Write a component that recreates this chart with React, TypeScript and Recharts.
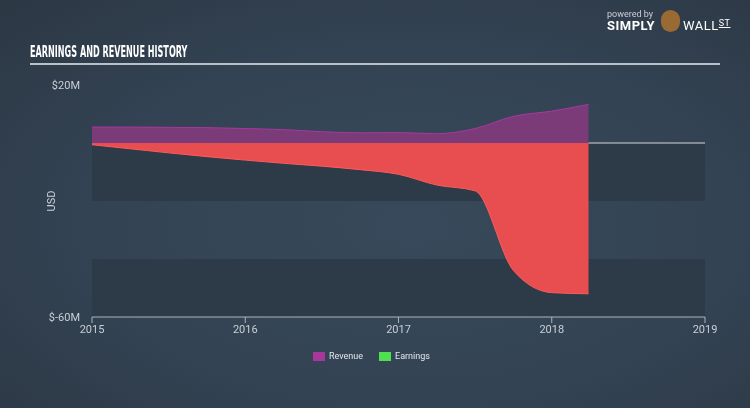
import React from 'react';
import {
  ComposedChart,
  Area,
  XAxis,
  YAxis,
  ReferenceArea,
  ReferenceLine,
} from 'recharts';

// fiscal periods (fractional years), revenue and earnings in $M
const periods = [2015.0, 2015.25, 2015.5, 2015.75, 2016.0, 2016.25, 2016.5, 2016.75, 2017.0, 2017.25, 2017.5, 2017.75, 2018.0, 2018.24];
const revenue = [5.5, 5.5, 5.4, 5.3, 5.0, 4.6, 3.9, 3.5, 3.6, 3.2, 5.0, 9.2, 11.0, 13.3];
const earnings = [-0.6, -2.0, -3.4, -4.7, -5.9, -7.0, -8.0, -9.2, -10.8, -14.5, -16.5, -44.0, -51.6, -52.0];

const xTicks = [2015, 2016, 2017, 2018, 2019];
const yTicks = [20, -60];
const bands = [[0, -20], [-40, -60]];

const data = periods.map((t, i) => ({ t, revenue: revenue[i], earnings: earnings[i] }));
const lastPeriod = periods[periods.length - 1];

const FONT = "Roboto, 'Open Sans', sans-serif";
const TICK = { fill: '#c9cfd6', fontSize: 11, fontFamily: FONT };

const App: React.FC = () => {
  return (
    <div
      style={{
        position: 'fixed',
        left: 0,
        top: 0,
        width: 750,
        height: 408,
        overflow: 'hidden',
        background: 'radial-gradient(ellipse at 55% 55%, #37495a 0%, #334353 55%, #2c3744 100%)',
        fontFamily: FONT,
      }}
    >
      {/* header */}
      <div
        style={{
          position: 'absolute', left: 30, top: 43, color: '#ffffff', fontSize: 15, fontWeight: 'bold',
          fontFamily: "'DejaVu Sans Condensed', sans-serif", whiteSpace: 'nowrap',
          transform: 'scaleX(0.6)', transformOrigin: 'left top',
        }}
      >
        EARNINGS AND REVENUE HISTORY
      </div>
      <div style={{ position: 'absolute', left: 30, top: 63, width: 690, height: 2, background: '#b9c0c8' }} />

      {/* logo */}
      <div style={{ position: 'absolute', left: 607, top: 9, color: '#c9cfd6', fontSize: 9 }}>powered by</div>
      <div style={{ position: 'absolute', left: 607, top: 18, color: '#ffffff', fontSize: 13, fontWeight: 'bold', letterSpacing: 0.5 }}>SIMPLY</div>
      <div style={{ position: 'absolute', left: 661, top: 10, width: 19, height: 22, borderRadius: 10, background: '#9a6a34' }} />
      <div style={{ position: 'absolute', left: 683, top: 18, color: '#ffffff', fontSize: 13, letterSpacing: 0.5 }}>
        WALL<span style={{ fontSize: 9, textDecoration: 'underline', verticalAlign: 4 }}>ST</span>
      </div>

      {/* axis title */}
      <div
        style={{
          position: 'absolute', left: 51, top: 201, color: '#c9cfd6', fontSize: 11,
          transform: 'translate(-50%, -50%) rotate(-90deg)',
        }}
      >
        USD
      </div>

      <div style={{ position: 'absolute', left: 0, top: 0 }}>
        <ComposedChart width={750} height={408} data={data} margin={{ top: 85, right: 45, bottom: 61, left: 32 }}>
          {bands.map(([a, b], i) => (
            <ReferenceArea key={i} x1={2015} x2={2019} y1={a} y2={b} fill="#2d3a48" fillOpacity={1} stroke="none" ifOverflow="visible" />
          ))}
          {/* zero line only shows past the last reported period */}
          <ReferenceLine segment={[{ x: lastPeriod, y: 0 }, { x: 2019, y: 0 }]} stroke="#d3d8dd" strokeWidth={1} />
          <XAxis
            dataKey="t"
            type="number"
            domain={[2015, 2019]}
            ticks={xTicks}
            tick={TICK}
            stroke="#aab4be"
            tickSize={6}
            height={30}
            interval={0}
          />
          <YAxis
            type="number"
            domain={[-60, 20]}
            ticks={yTicks}
            tickFormatter={(v: number) => `$${v}M`}
            tick={TICK}
            axisLine={false}
            tickLine={false}
            width={60}
            dx={-4}
            interval={0}
          />
          <Area type="monotone" dataKey="earnings" baseValue={0} stroke="#ff5a5a" strokeWidth={1} fill="#e84d50" fillOpacity={1} isAnimationActive={false} />
          <Area type="monotone" dataKey="revenue" baseValue={0} stroke="#a8389f" strokeWidth={1} fill="#7b3a78" fillOpacity={1} isAnimationActive={false} />
        </ComposedChart>
      </div>

      {/* legend */}
      <div style={{ position: 'absolute', left: 313, top: 351, display: 'flex', alignItems: 'center', fontSize: 9, color: '#e2e6ea' }}>
        <span style={{ width: 12, height: 9, background: '#a8379c', display: 'inline-block', marginRight: 4 }} />
        <span style={{ marginRight: 16 }}>Revenue</span>
        <span style={{ width: 12, height: 9, background: '#4ee04e', display: 'inline-block', marginRight: 4 }} />
        <span>Earnings</span>
      </div>
    </div>
  );
};

export default App;
